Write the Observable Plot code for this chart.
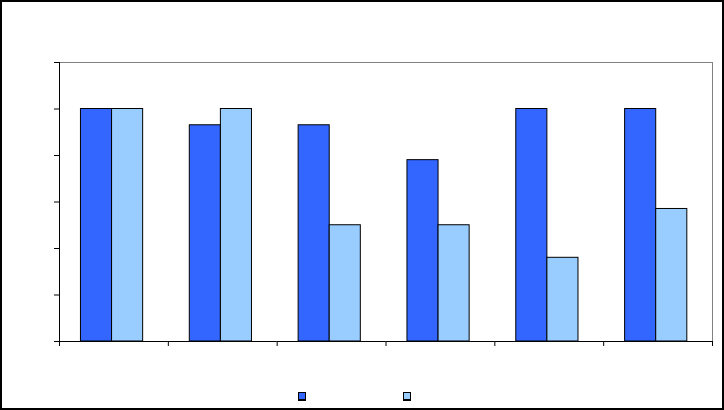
<!DOCTYPE html>
<html>
<head>
<meta charset="utf-8">
<script src="https://cdn.jsdelivr.net/npm/d3@7"></script>
<script src="https://cdn.jsdelivr.net/npm/@observablehq/plot@0.6"></script>
<style>
  html, body { margin: 0; padding: 0; background: #fff; }
  #wrap { position: relative; width: 724px; height: 410px; outline: 2px solid #000; outline-offset: -2px; font-family: "Liberation Sans", Arial, sans-serif; }
  #wrap svg { display: block; }
  #legend { position: absolute; left: 298px; top: 392px; height: 10px; display: flex; gap: 97px; }
  .sw { width: 6px; height: 6px; border: 1px solid #000; box-shadow: 0 1px 0 #000; }
</style>
</head>
<body>
<div id="wrap"><div id="legend"></div></div>
<script>
const categories = ["1", "2", "3", "4", "5", "6"];
const seriesNames = ["Series 1", "Series 2"];
const series1 = [100, 93, 93, 78, 100, 100];
const series2 = [100, 100, 50, 50, 36, 57];
const yTicks = [0, 20, 40, 60, 80, 100, 120];
const colors = ["#3366FF", "#99CCFF"];

const data = [];
categories.forEach((c, i) => {
  data.push({cat: c, series: seriesNames[0], value: series1[i]});
  data.push({cat: c, series: seriesNames[1], value: series2[i]});
});

const W = 724, H = 410, mt = 62, mb = 69, ml = 59, mr = 12;
const plotH = H - mt - mb;

const chart = Plot.plot({
  width: W, height: H,
  marginTop: mt, marginBottom: mb, marginLeft: ml, marginRight: mr,
  fx: {domain: categories, padding: 0, round: false, axis: null},
  x: {domain: seriesNames, paddingInner: 0, paddingOuter: 0.75, align: 0.46, round: false, axis: null},
  y: {domain: [0, 120], axis: null},
  color: {domain: seriesNames, range: colors},
  marks: [
    Plot.frame({anchor: "top", stroke: "#808080"}),
    Plot.frame({anchor: "right", facetAnchor: "right", stroke: "#808080"}),
    Plot.barY(data, {fx: "cat", x: "series", y: "value", fill: "series", stroke: "#000", strokeWidth: 1}),
    Plot.ruleY([0], {stroke: "#000", strokeWidth: 1}),
    Plot.frame({anchor: "left", facetAnchor: "left", stroke: "#000"}),
    Plot.axisY({ticks: yTicks, tickSize: 5, tickFormat: () => "", label: null, stroke: "#000"}),
    Plot.frame({anchor: "left", insetTop: plotH, insetBottom: -4, stroke: "#000"}),
    Plot.frame({anchor: "right", facetAnchor: "right", insetTop: plotH, insetBottom: -4, stroke: "#000"})
  ]
});
document.getElementById("wrap").prepend(chart);

const legend = document.getElementById("legend");
seriesNames.forEach((s, i) => {
  const d = document.createElement("div");
  d.className = "sw";
  d.title = s;
  d.style.background = colors[i];
  legend.appendChild(d);
});
</script>
</body>
</html>
